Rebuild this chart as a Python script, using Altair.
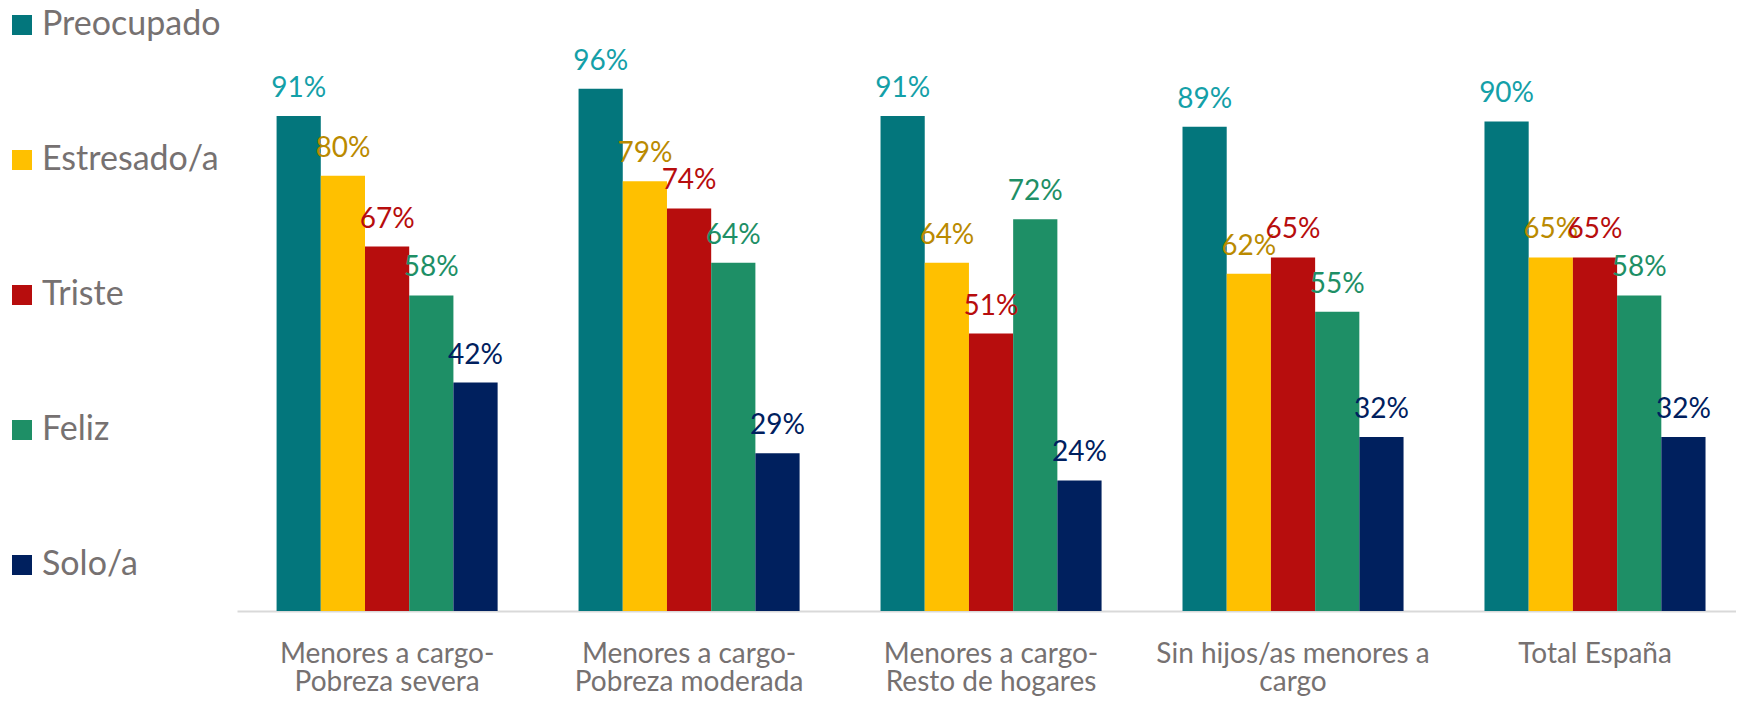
import altair as alt
import pandas as pd

# ---- data ----
groups = [
    "Menores a cargo-\nPobreza severa",
    "Menores a cargo-\nPobreza moderada",
    "Menores a cargo-\nResto de hogares",
    "Sin hijos/as menores a\ncargo",
    "Total España",
]
series = ["Preocupado", "Estresado/a", "Triste", "Feliz", "Solo/a"]
preocupado = [91, 96, 91, 89, 90]
estresado = [80, 79, 64, 62, 65]
triste = [67, 74, 51, 65, 65]
feliz = [58, 64, 72, 55, 58]
solo = [42, 29, 24, 32, 32]

bar_colors = ["#03767C", "#FFC000", "#B70D0D", "#1E8F66", "#00205E"]
label_colors = ["#14A0A8", "#BA8A00", "#B70D0D", "#1E8F66", "#00205E"]

values_by_series = [preocupado, estresado, triste, feliz, solo]
rows = []
for s, vals in zip(series, values_by_series):
    for g, v in zip(groups, vals):
        rows.append({"grupo": g, "serie": s, "valor": v, "etiqueta": f"{v}%"})
df = pd.DataFrame(rows)

FONT = "Lato"
GRAY = "#767171"

x_enc = alt.X(
    "grupo:N",
    sort=groups,
    scale=alt.Scale(paddingInner=0.268, paddingOuter=0.116, align=0.565),
    axis=alt.Axis(
        title=None,
        labelAngle=0,
        labelExpr="split(datum.value, '\\n')",
        labelFont=FONT,
        labelFontSize=28,
        labelColor=GRAY,
        labelLineHeight=28,
        labelPadding=29,
        labelBaseline="top",
        labelLimit=0,
        ticks=False,
        domainColor="#D9D9D9",
        domainWidth=2,
        grid=False,
    ),
)
xo_enc = alt.XOffset("serie:N", sort=series, scale=alt.Scale(paddingInner=0, paddingOuter=0))
y_enc = alt.Y("valor:Q", scale=alt.Scale(domain=[0, 100]), axis=None)

bars = alt.Chart(df).mark_bar(stroke=None).encode(
    x=x_enc,
    xOffset=xo_enc,
    y=y_enc,
    color=alt.Color(
        "serie:N",
        sort=series,
        scale=alt.Scale(domain=series, range=bar_colors),
        legend=alt.Legend(
            title=None,
            orient="none",
            legendX=-232,
            legendY=-59,
            direction="vertical",
            symbolType="square",
            symbolSize=400,
            symbolStrokeWidth=0,
            labelFont=FONT,
            labelFontSize=34,
            labelColor=GRAY,
            labelOffset=3,
            labelLimit=0,
            rowPadding=101,
            padding=0,
        ),
    ),
)

labels = alt.Chart(df).mark_text(
    font=FONT, fontSize=28, baseline="alphabetic", align="center", dy=-19
).encode(
    x=x_enc,
    xOffset=xo_enc,
    y=y_enc,
    text="etiqueta:N",
    color=alt.Color(
        "serie:N",
        sort=series,
        scale=alt.Scale(domain=series, range=label_colors),
        legend=None,
    ),
)

chart = (
    alt.layer(bars, labels)
    .resolve_scale(color="independent")
    .properties(
        width=1499,
        height=544,
        autosize=alt.AutoSizeParams(type="none"),
        padding={"left": 229, "top": 59, "right": 0, "bottom": 87},
    )
    .configure_view(stroke=None)
)

chart.save("out.html", embed_options={"renderer": "svg", "actions": False})
